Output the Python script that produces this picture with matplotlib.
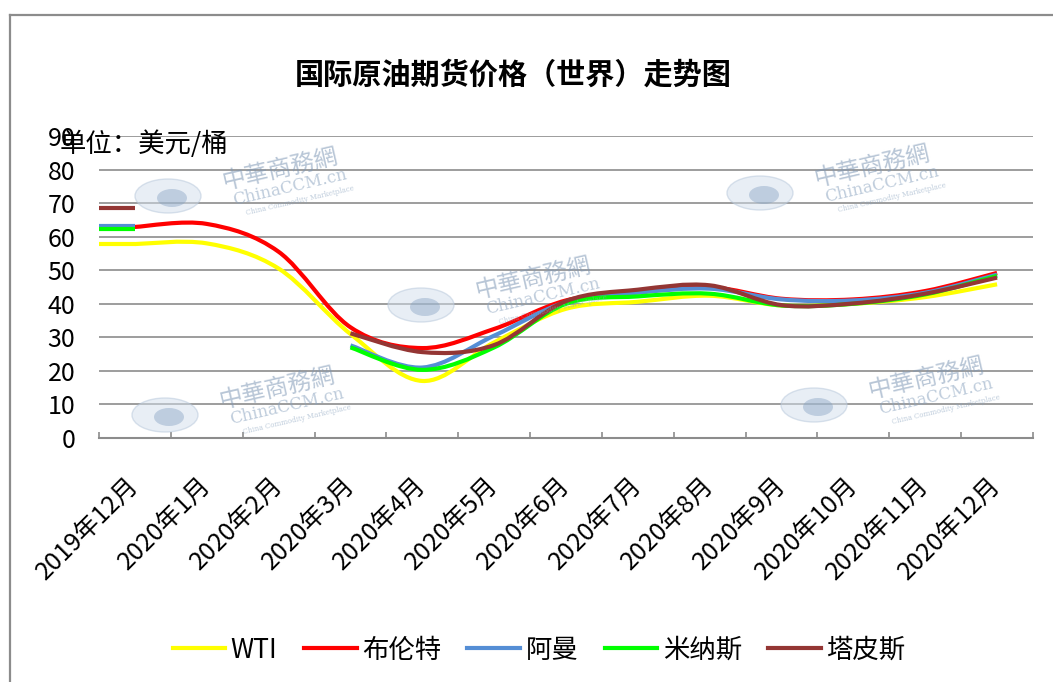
import numpy as np
import matplotlib
matplotlib.use("Agg")
import matplotlib.pyplot as plt
from matplotlib.path import Path
from matplotlib.patches import PathPatch, Ellipse
from matplotlib.lines import Line2D

plt.rcParams['font.family'] = ['Noto Sans CJK SC', 'DejaVu Sans']

months = ['2019年12月', '2020年1月', '2020年2月', '2020年3月', '2020年4月', '2020年5月',
          '2020年6月', '2020年7月', '2020年8月', '2020年9月', '2020年10月', '2020年11月', '2020年12月']
nan = np.nan
wti = [57.8, 58.0, 50.5, 31.0, 17.0, 28.5, 38.5, 40.6, 42.4, 39.5, 40.0, 42.0, 45.8]
brent = [62.9, 63.8, 55.5, 33.0, 26.8, 32.5, 41.0, 43.5, 45.0, 41.5, 41.3, 43.8, 49.2]
oman = [63.2, nan, nan, 27.6, 21.0, 30.5, 40.5, 43.3, 44.5, 41.3, 41.0, 43.3, 48.7]
minas = [62.2, nan, nan, 27.0, 20.3, 27.0, 40.0, 42.2, 43.0, 39.5, 40.0, 42.8, 48.3]
tapis = [68.4, nan, nan, 31.2, 25.6, 27.7, 40.8, 44.2, 45.5, 39.6, 40.1, 43.0, 47.8]

series_names = ['WTI', '布伦特', '阿曼', '米纳斯', '塔皮斯']
series_vals = [wti, brent, oman, minas, tapis]
colors = ['#FFFF00', '#FF0000', '#558ED5', '#00FF00', '#943634']

W, H = 1053, 682
fig = plt.figure(figsize=(W / 100, H / 100), dpi=100)
fig.patch.set_facecolor('white')


def px(x, y):
    return (x / W, 1 - y / H)


# outer border (left + top)
fig.add_artist(Line2D([10 / W, 10 / W], [0, 1 - 15 / H], color='#8c8c8c', lw=1.6))
fig.add_artist(Line2D([10 / W, 1], [1 - 15 / H, 1 - 15 / H], color='#8c8c8c', lw=1.6))

ax = fig.add_axes([99 / W, 1 - 438 / H, (1033 - 99) / W, (438 - 136) / H])
ax.set_xlim(-0.5, len(months) - 0.5)
ax.set_ylim(0, 90)
ax.set_yticks(np.arange(0, 91, 10))
ax.yaxis.grid(True, color='#8c8c8c', lw=1.2)
ax.set_axisbelow(True)
for s in ['left', 'right', 'top']:
    ax.spines[s].set_visible(False)
ax.spines['bottom'].set_color('#8c8c8c')
ax.spines['bottom'].set_linewidth(1.5)
ax.tick_params(axis='y', length=0, pad=17, labelsize=18, labelcolor='black')

x = np.arange(len(months))
ax.set_xticks(x)
ax.set_xticklabels(months, rotation=45, ha='right', va='center', rotation_mode='anchor', fontsize=18)
ax.tick_params(axis='x', which='major', length=0, pad=31)
ax.set_xticks(np.arange(-0.5, len(months), 1.0), minor=True)
ax.tick_params(axis='x', which='minor', direction='in', length=4.5, width=1.2, color='#8c8c8c')


def smooth_path(xs, ys):
    pts = np.column_stack([xs, ys])
    n = len(pts)
    verts = [pts[0]]
    codes = [Path.MOVETO]
    for i in range(n - 1):
        p0 = pts[i - 1] if i > 0 else pts[i]
        p1 = pts[i]
        p2 = pts[i + 1]
        p3 = pts[i + 2] if i + 2 < n else pts[i + 1]
        c1 = p1 + (p2 - p0) / 6.0
        c2 = p2 - (p3 - p1) / 6.0
        verts += [c1, c2, p2]
        codes += [Path.CURVE4] * 3
    return Path(verts, codes)


for name, vals, c in zip(series_names, series_vals, colors):
    v = np.array(vals, dtype=float)
    # flat stub to the left edge
    ax.plot([-0.5, x[0]], [v[0], v[0]], color=c, lw=3, solid_capstyle='butt')
    valid = ~np.isnan(v)
    seg = []
    for i in range(len(v)):
        if valid[i]:
            seg.append(i)
        else:
            if len(seg) > 1:
                ax.add_patch(PathPatch(smooth_path(x[seg], v[seg]), fc='none', ec=c, lw=3, capstyle='butt'))
            seg = []
    if len(seg) > 1:
        ax.add_patch(PathPatch(smooth_path(x[seg], v[seg]), fc='none', ec=c, lw=3, capstyle='butt'))

# watermarks
globes = [(168, 196), (760, 193), (421, 305), (165, 415), (814, 405)]
for gx, gy in globes:
    fig.add_artist(Ellipse(px(gx, gy), 66 / W, 34 / H, angle=0, fc='#d3dfec', ec='#b5c6da', lw=1, alpha=0.5, zorder=0.5))
    fig.add_artist(Ellipse(px(gx + 4, gy + 2), 30 / W, 18 / H, angle=0, fc='#7f9cbf', ec='none', alpha=0.4, zorder=0.5))
    fig.text(*px(gx + 112, gy - 27), '中華商務網', fontsize=17, rotation=13, color='#7e97b5', alpha=0.55,
             ha='center', va='center', zorder=0.5)
    fig.text(*px(gx + 122, gy - 9), 'ChinaCCM.cn', fontsize=12, rotation=13, color='#8aa3bf', alpha=0.55,
             ha='center', va='center', family='DejaVu Serif', zorder=0.5)
    fig.text(*px(gx + 132, gy + 5), 'China Commodity Marketplace', fontsize=5, rotation=13, color='#8aa3bf',
             alpha=0.55, ha='center', va='center', family='DejaVu Serif', zorder=0.5)

fig.text(*px(513, 75), '国际原油期货价格（世界）走势图', fontsize=21, fontweight='bold', ha='center', va='center')
fig.text(*px(60, 144), '单位：美元/桶', fontsize=19, ha='left', va='center')

handles = [Line2D([], [], color=c, lw=3) for c in colors]
fig.legend(handles, series_names, loc='center', bbox_to_anchor=px(539, 650), ncol=5, frameon=False,
           fontsize=19, handlelength=2.0, handletextpad=0.2, columnspacing=1.0)

fig.savefig('out.png', dpi=100)
